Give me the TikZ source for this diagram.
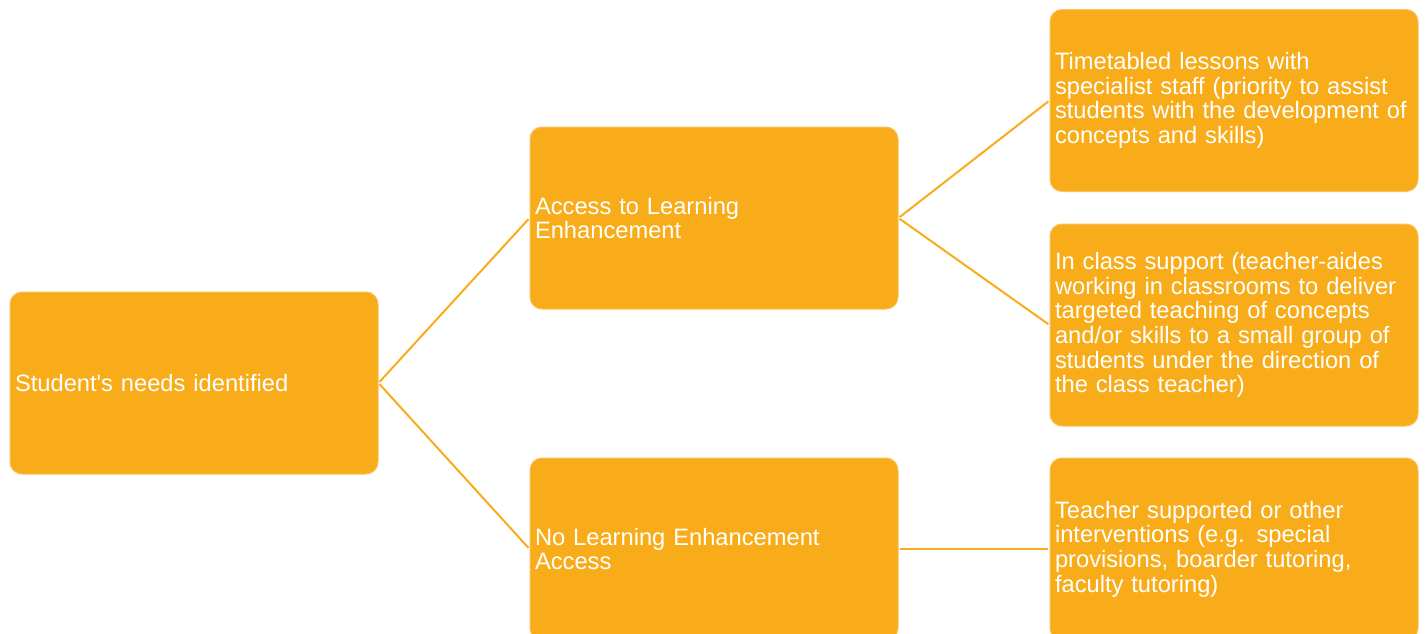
\documentclass[tikz,border=0pt]{standalone}
\usepackage{fontspec}
\setmainfont{Liberation Sans}
\usepackage{tikz}
\usetikzlibrary{calc}
\definecolor{boxorange}{HTML}{F9AC19}
\definecolor{boxedge}{HTML}{FAC25A}
\tikzstyle{box} = [rectangle, rounded corners=12pt,
minimum width=368pt, minimum height=182pt,
text width=358pt, inner xsep=5pt, align=left,
text=white, font=\fontsize{23.7}{24.7}\selectfont,
draw=boxedge, line width=1pt, fill=boxorange]
\tikzstyle{link} = [draw=boxorange, line width=2pt, shorten <=1.5pt, shorten >=1.5pt]

\begin{document}
\begin{tikzpicture}[x=1pt,y=-1pt]
    \useasboundingbox (0,0) rectangle (1426,633);

    % first level
    \node[box] (needs) at (194,383) {Student\textquotesingle s needs identified};

    % second level
    \node[box] (access) at (714,218) {Access to Learning\\Enhancement};
    \node[box] (noaccess) at (714,549) {No Learning Enhancement\\Access};

    % third level
    \node[box] (lessons) at (1234,100.5) {Timetabled lessons with\\specialist staff (priority to assist\\students with the development of\\concepts and skills)};
    \node[box, minimum height=202pt] (inclass) at (1234,325) {In class support (teacher-aides\\working in classrooms to deliver\\targeted teaching of concepts\\and/or skills to a small group of\\students under the direction of\\the class teacher)};
    \node[box] (other) at (1234,549) {Teacher supported or other\\interventions (e.g. special\\provisions, boarder tutoring,\\faculty tutoring)};

    % draw links
    \draw[link] (needs.east) -- (access.west);
    \draw[link] (needs.east) -- (noaccess.west);
    \draw[link] (access.east) -- (lessons.west);
    \draw[link] (access.east) -- (inclass.west);
    \draw[link] (noaccess.east) -- (other.west);
\end{tikzpicture}
\end{document}
